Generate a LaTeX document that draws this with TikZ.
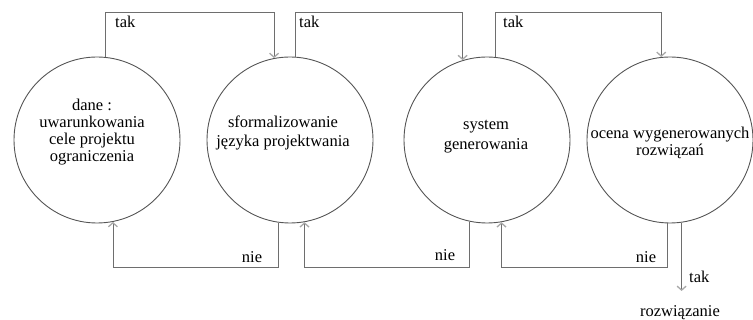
\documentclass[tikz,border=0pt]{standalone}
\usepackage{fontspec}
\setmainfont{Liberation Serif}
\usetikzlibrary{arrows.meta}
\definecolor{circcol}{HTML}{555555}
\definecolor{linecol}{HTML}{6E6E6E}
\definecolor{tipcol}{HTML}{A8A8A8}
\begin{document}
\begin{tikzpicture}[x=1pt,y=-1pt,
  stage/.style={circle,draw=circcol,line width=0.9pt,minimum size=166pt,inner sep=0pt},
  txt/.style={align=center,inner sep=0pt,font=\fontsize{16.5}{17}\selectfont},
  lbl/.style={inner sep=0pt,font=\fontsize{16.5}{17}\selectfont},
  conn/.style={draw=linecol,line width=0.8pt},
  arr/.style={conn,-{Straight Barb[length=4pt,width=9pt,color=tipcol,line width=1.3pt]}}]
\useasboundingbox (0,0) rectangle (753,320);
% circles
\node[stage] (c1) at (97,140) {};
\node[stage] (c2) at (290,140) {};
\node[stage] (c3) at (487,140) {};
\node[stage] (c4) at (670,140) {};
% texts
\node[txt] (t1) at (92,132) {dane :\\uwarunkowania\\cele projektu\\ograniczenia};
\node[txt,font=\fontsize{16.5}{19}\selectfont] (t2) at (283,133) {sformalizowanie\\języka projektwania};
\node[txt,font=\fontsize{16.5}{20}\selectfont] (t3) at (486,137) {system\\generowania};
\node[txt] (t4) at (670,143) {ocena wygenerowanych\\rozwiązań};
% top coordinates
\coordinate (top) at (0,12);
\coordinate (bot) at (0,267);
% tak connectors
\draw[arr] (c1.84) -- (c1.84 |- top) -| (c2.101);
\draw[arr] (c2.86) -- (c2.86 |- top) -| (c3.107);
\draw[arr] (c3.84.5) -- (c3.84.5 |- top) -| (c4.96);
% nie connectors
\draw[arr] (c2.262) -- (c2.262 |- bot) -| (c1.281);
\draw[arr] (c3.258) -- (c3.258 |- bot) -| (c2.280);
\draw[arr] (c4.268.6) -- (c4.268.6 |- bot) -| (c3.280);
% final
\coordinate (endp) at (682,291);
\draw[arr] (c4.278) -- (c4.278 |- endp);
% labels
\node[lbl,anchor=west] (l1) at (115,22) {tak};
\node[lbl,anchor=west] (l2) at (299,22) {tak};
\node[lbl,anchor=west] (l3) at (503,22) {tak};
\node[lbl] (n1) at (252,257) {nie};
\node[lbl] (n2) at (445,255) {nie};
\node[lbl] (n3) at (646,257) {nie};
\node[lbl,anchor=west] (l4) at (689,277) {tak};
\node[lbl] (r) at (680,313) {rozwiązanie};
\end{tikzpicture}
\end{document}
